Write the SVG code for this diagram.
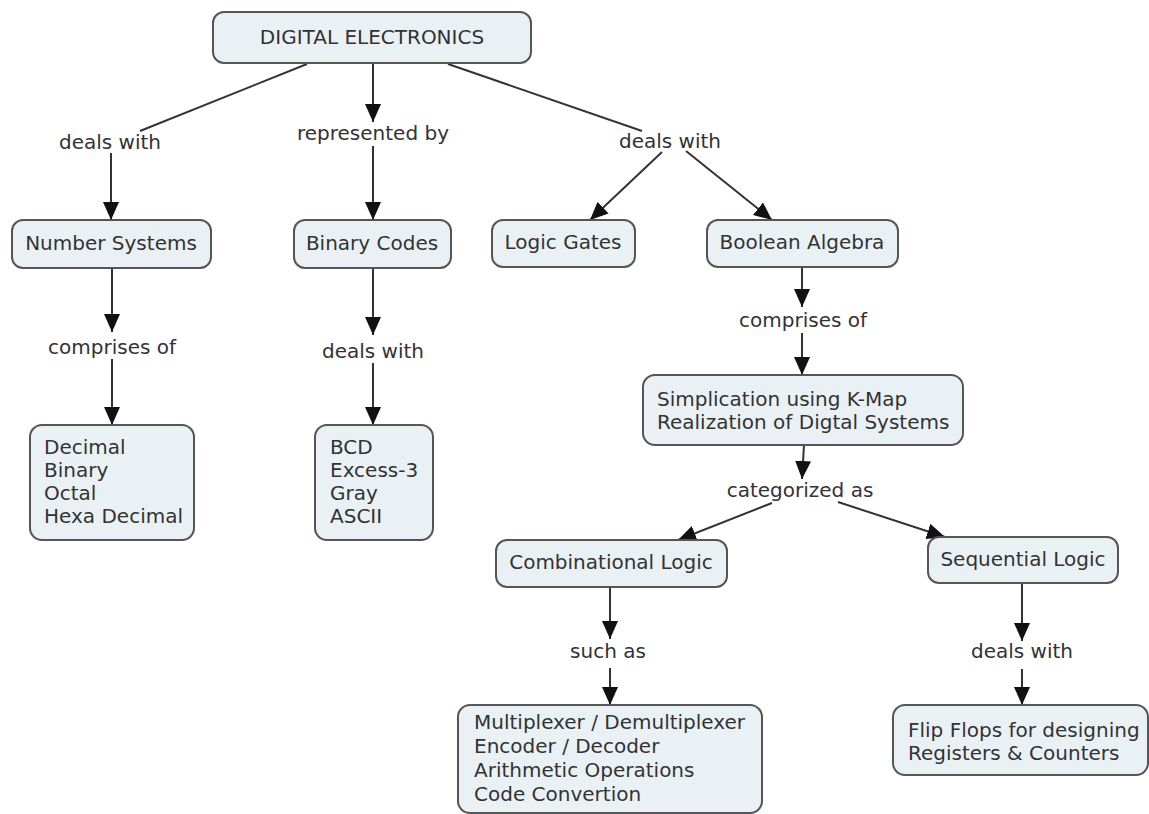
<svg xmlns="http://www.w3.org/2000/svg" width="1149" height="814" viewBox="0 0 1149 814">
  <defs>
    <marker id="arrow" markerUnits="userSpaceOnUse" markerWidth="18" markerHeight="16" refX="18" refY="8" orient="auto">
      <path d="M0,0 L18,8 L0,16 z" fill="#111"/>
    </marker>
    <style>
      .node rect { fill: #eaf1f4; stroke: #555; stroke-width: 2; }
      .node text, .label { font-family: "DejaVu Sans", Verdana, sans-serif; font-size: 20px; fill: #333; }
      .mid { text-anchor: middle; }
      .conn line { stroke: #333; stroke-width: 2; fill: none; }
      .conn line.arr { marker-end: url(#arrow); }
    </style>
  </defs>
  <rect width="1149" height="814" fill="#fff"/>

  <!-- connectors -->
  <g id="connectors" class="conn">
    <line x1="307" y1="64" x2="140" y2="131"/>
    <line class="arr" x1="111" y1="153" x2="111" y2="220"/>
    <line class="arr" x1="373" y1="64" x2="373" y2="122"/>
    <line class="arr" x1="373" y1="146" x2="373" y2="220"/>
    <line x1="448" y1="64" x2="642" y2="131"/>
    <line class="arr" x1="662" y1="152" x2="590" y2="220"/>
    <line class="arr" x1="686" y1="151" x2="772" y2="220"/>
    <line class="arr" x1="112" y1="268" x2="112" y2="332"/>
    <line class="arr" x1="112" y1="359" x2="112" y2="425"/>
    <line class="arr" x1="373" y1="268" x2="373" y2="335"/>
    <line class="arr" x1="373" y1="363" x2="373" y2="425"/>
    <line class="arr" x1="802" y1="267" x2="802" y2="307"/>
    <line class="arr" x1="802" y1="333" x2="802" y2="375"/>
    <line class="arr" x1="804" y1="445" x2="802" y2="479"/>
    <line class="arr" x1="772" y1="503" x2="678" y2="540"/>
    <line class="arr" x1="838" y1="502" x2="945" y2="537"/>
    <line class="arr" x1="610" y1="587" x2="610" y2="639"/>
    <line class="arr" x1="610" y1="668" x2="610" y2="705"/>
    <line class="arr" x1="1022" y1="583" x2="1022" y2="641"/>
    <line class="arr" x1="1022" y1="669" x2="1022" y2="705"/>
  </g>

  <!-- linking phrases -->
  <g id="labels">
    <text class="label mid" x="110" y="149">deals with</text>
    <text class="label mid" x="373" y="140">represented by</text>
    <text class="label mid" x="670" y="148">deals with</text>
    <text class="label mid" x="112" y="354">comprises of</text>
    <text class="label mid" x="373" y="358">deals with</text>
    <text class="label mid" x="803" y="327">comprises of</text>
    <text class="label mid" x="800" y="497">categorized as</text>
    <text class="label mid" x="608" y="658">such as</text>
    <text class="label mid" x="1022" y="658">deals with</text>
  </g>

  <g id="digital-electronics" class="node">
    <rect x="213" y="12" width="318" height="51" rx="11"/>
    <text class="mid" x="372" y="44">DIGITAL ELECTRONICS</text>
  </g>
  <g id="number-systems" class="node">
    <rect x="12" y="220" width="199" height="48" rx="11"/>
    <text class="mid" x="111" y="250">Number Systems</text>
  </g>
  <g id="binary-codes" class="node">
    <rect x="294" y="220" width="157" height="48" rx="11"/>
    <text class="mid" x="372" y="250">Binary Codes</text>
  </g>
  <g id="logic-gates" class="node">
    <rect x="492" y="220" width="143" height="47" rx="11"/>
    <text class="mid" x="563" y="249">Logic Gates</text>
  </g>
  <g id="boolean-algebra" class="node">
    <rect x="707" y="220" width="191" height="47" rx="11"/>
    <text class="mid" x="802" y="249">Boolean Algebra</text>
  </g>
  <g id="number-types" class="node">
    <rect x="30" y="425" width="164" height="115" rx="12"/>
    <text x="44" y="454">Decimal</text>
    <text x="44" y="477">Binary</text>
    <text x="44" y="500">Octal</text>
    <text x="44" y="523">Hexa Decimal</text>
  </g>
  <g id="code-types" class="node">
    <rect x="315" y="425" width="118" height="115" rx="12"/>
    <text x="330" y="454">BCD</text>
    <text x="330" y="477">Excess-3</text>
    <text x="330" y="500">Gray</text>
    <text x="330" y="523">ASCII</text>
  </g>
  <g id="simplification" class="node">
    <rect x="643" y="375" width="320" height="70" rx="12"/>
    <text x="657" y="406">Simplication using K-Map</text>
    <text x="657" y="429">Realization of Digtal Systems</text>
  </g>
  <g id="combinational-logic" class="node">
    <rect x="496" y="540" width="231" height="47" rx="11"/>
    <text class="mid" x="611" y="569">Combinational Logic</text>
  </g>
  <g id="sequential-logic" class="node">
    <rect x="928" y="537" width="190" height="46" rx="11"/>
    <text class="mid" x="1023" y="566">Sequential Logic</text>
  </g>
  <g id="combinational-circuits" class="node">
    <rect x="458" y="705" width="304" height="108" rx="12"/>
    <text x="474" y="729">Multiplexer / Demultiplexer</text>
    <text x="474" y="753">Encoder / Decoder</text>
    <text x="474" y="777">Arithmetic Operations</text>
    <text x="474" y="801">Code Convertion</text>
  </g>
  <g id="flip-flops" class="node">
    <rect x="893" y="705" width="255" height="70" rx="12"/>
    <text x="908" y="737">Flip Flops for designing</text>
    <text x="908" y="760">Registers &amp; Counters</text>
  </g>
</svg>
